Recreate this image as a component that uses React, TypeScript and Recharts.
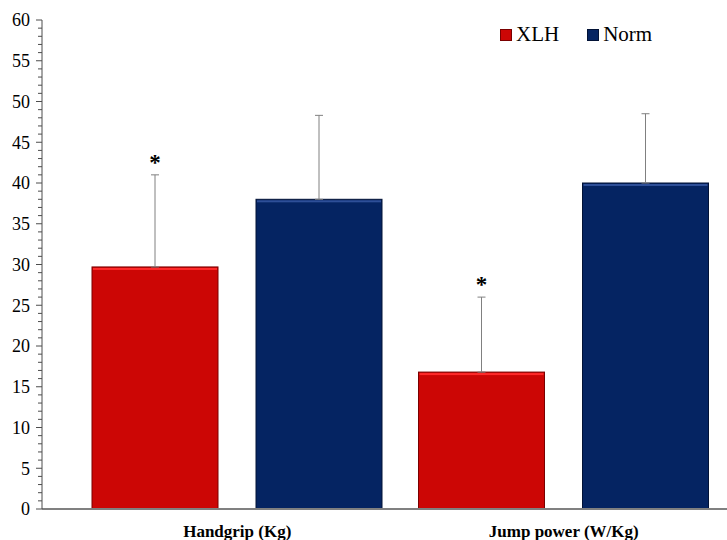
import { BarChart, Bar, XAxis, YAxis, ErrorBar, LabelList, Legend } from 'recharts';

const categories = ['Handgrip (Kg)', 'Jump power (W/Kg)'];
const xlhValues = [29.7, 16.8];
const xlhErrors = [11.3, 9.2];
const normValues = [38.0, 40.0];
const normErrors = [10.3, 8.5];
const xlhMarks = ['*', '*'];
const seriesOrder = ['XLH', 'Norm'];
const yTicks = Array.from({ length: 61 }, (_, i) => i);

const data = categories.map((name, i) => ({
  name,
  xlh: xlhValues[i],
  xlhErr: [0, xlhErrors[i]],
  norm: normValues[i],
  normErr: [0, normErrors[i]],
}));

const serif = 'Liberation Serif, DejaVu Serif, serif';

const YTick = (props: any) => {
  const { x, y, payload } = props;
  const v = payload.value;
  const major = v % 5 === 0;
  return (
    <g>
      <line x1={x - (major ? 6 : 4)} x2={x} y1={y} y2={y} stroke="#4d4d4d" strokeWidth={1} />
      {major && (
        <text x={x - 12} y={y} dy="0.35em" textAnchor="end" style={{ fontFamily: serif, fontSize: 18 }} fill="#000">
          {v}
        </text>
      )}
    </g>
  );
};

const XTick = (props: any) => {
  const { x, y, payload } = props;
  return (
    <text x={x} y={y} dy="0.71em" textAnchor="middle" style={{ fontFamily: serif, fontSize: 17, fontWeight: 'bold' }} fill="#000">
      {payload.value}
    </text>
  );
};

const makeShape = (fill: string, edge: string, hi: string) => (props: any) => {
  const { x, y, width, height } = props;
  return (
    <g>
      <rect x={x} y={y} width={width} height={height} fill={fill} stroke={edge} strokeWidth={1} />
      <rect x={x + 1} y={y + 1} width={width - 2} height={2} fill={hi} />
    </g>
  );
};

const Asterisk = (props: any) => {
  const { x, y, width, height, index, value } = props;
  const topY = y - (xlhErrors[index] * height) / value;
  return (
    <text x={x + width / 2} y={topY - 5} textAnchor="middle" style={{ fontFamily: serif, fontSize: 23, fontWeight: 'bold' }} fill="#000">
      {xlhMarks[index]}
    </text>
  );
};

const LegendBox = (props: any) => {
  const edges: Record<string, string> = { XLH: '#7a0000', Norm: '#021236' };
  const items = [...props.payload].sort((a: any, b: any) => seriesOrder.indexOf(a.value) - seriesOrder.indexOf(b.value));
  return (
    <div style={{ display: 'flex', alignItems: 'center', fontFamily: serif, fontSize: 21, color: '#000' }}>
      {items.map((p: any) => (
        <div key={p.value} style={{ display: 'flex', alignItems: 'center', marginRight: 28 }}>
          <span
            style={{
              display: 'inline-block',
              width: 10,
              height: 10,
              background: p.color,
              border: `1px solid ${edges[p.value]}`,
              marginRight: 4,
            }}
          />
          {p.value}
        </div>
      ))}
    </div>
  );
};

export default function App() {
  return (
    <div style={{ position: 'absolute', left: 0, top: 0, width: 727, height: 540, background: '#fff' }}>
      <BarChart
        width={727}
        height={540}
        data={data}
        margin={{ top: 20, right: 0, bottom: 0, left: 0 }}
        barCategoryGap={18}
        barGap={38}
      >
        <XAxis
          dataKey="name"
          axisLine={{ stroke: '#808080', strokeWidth: 2 }}
          tickLine={false}
          tick={<XTick />}
          padding={{ left: 32, right: 0 }}
          height={31}
          interval={0}
          tickMargin={10}
        />
        <YAxis
          domain={[0, 60]}
          ticks={yTicks}
          interval={0}
          width={42}
          tickSize={0}
          tickMargin={0}
          tickLine={false}
          axisLine={{ stroke: '#4d4d4d', strokeWidth: 1 }}
          tick={<YTick />}
        />
        <Legend
          verticalAlign="middle"
          layout="horizontal"
          content={<LegendBox />}
          wrapperStyle={{ top: 22, left: 500, right: 'auto', width: 'auto' }}
        />
        <Bar dataKey="xlh" name="XLH" fill="#CC0605" isAnimationActive={false} shape={makeShape('#CC0605', '#7a0000', '#ff2a2a')}>
          <ErrorBar dataKey="xlhErr" width={4} stroke="#808080" strokeWidth={1} direction="y" />
          <LabelList dataKey="xlh" content={<Asterisk />} />
        </Bar>
        <Bar dataKey="norm" name="Norm" fill="#052462" isAnimationActive={false} shape={makeShape('#052462', '#021236', '#2e4f98')}>
          <ErrorBar dataKey="normErr" width={4} stroke="#808080" strokeWidth={1} direction="y" />
        </Bar>
      </BarChart>
    </div>
  );
}
